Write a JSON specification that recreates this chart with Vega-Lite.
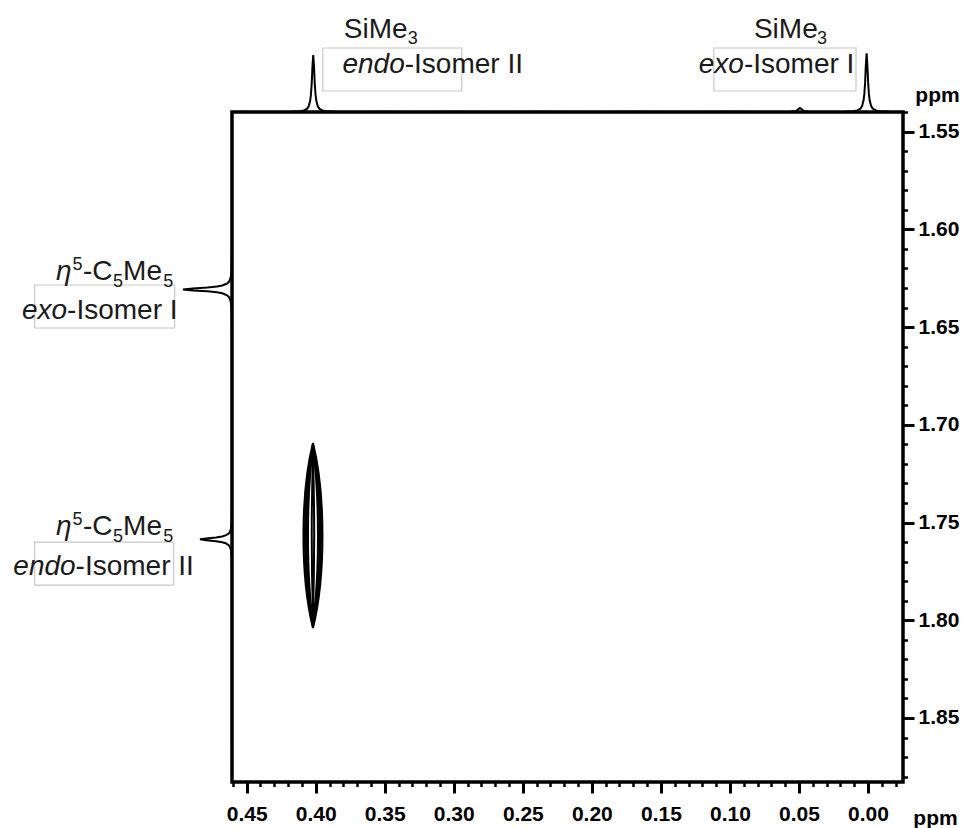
{
  "$schema": "https://vega.github.io/schema/vega-lite/v6.json",
  "width": 671,
  "height": 670,
  "autosize": "none",
  "padding": {"left": 232, "top": 112, "right": 64, "bottom": 46},
  "background": "white",
  "config": {
    "view": {"stroke": "#000000", "strokeWidth": 3.5},
    "font": "Liberation Sans"
  },
  "datasets": {
    "boxes": [
      {"x": 0.3949, "x2": 0.2942, "y": 1.50717, "y2": 1.52917},
      {"x": 0.1116, "x2": 0.0087, "y": 1.50717, "y2": 1.52917},
      {"x": 0.6036, "x2": 0.5022, "y": 1.62845, "y2": 1.65046},
      {"x": 0.6036, "x2": 0.5029, "y": 1.75998, "y2": 1.78199}
    ],
    "contours": [
      {"x": 0.402, "y": 1.7566, "level": 1},
      {"x": 0.402, "y": 1.7566, "level": 2},
      {"x": 0.402, "y": 1.7566, "level": 3},
      {"x": 0.402, "y": 1.7566, "level": 4},
      {"x": 0.402, "y": 1.7566, "level": 5}
    ],
    "italicText": [
      {"x": 0.33551, "y": 1.52011, "t": "endo"},
      {"x": 0.08986, "y": 1.52011, "t": "exo"},
      {"x": 0.57681, "y": 1.6259, "t": "η"},
      {"x": 0.58007, "y": 1.64585, "t": "exo"},
      {"x": 0.57681, "y": 1.7564, "t": "η"},
      {"x": 0.57391, "y": 1.77687, "t": "endo"}
    ],
    "normalText": [
      {"x": 0.37971, "y": 1.5023, "t": "SiMe"},
      {"x": 0.33551, "y": 1.52011, "t": "-Isomer II"},
      {"x": 0.08261, "y": 1.5023, "t": "SiMe"},
      {"x": 0.08986, "y": 1.52011, "t": "-Isomer I"},
      {"x": 0.5686, "y": 1.6259, "t": "-C"},
      {"x": 0.5395, "y": 1.6259, "t": "Me"},
      {"x": 0.58007, "y": 1.64585, "t": "-Isomer I"},
      {"x": 0.5686, "y": 1.7564, "t": "-C"},
      {"x": 0.5395, "y": 1.7564, "t": "Me"},
      {"x": 0.57391, "y": 1.77687, "t": "-Isomer II"}
    ],
    "smallText": [
      {"x": 0.33333, "y": 1.50537, "t": "3"},
      {"x": 0.03696, "y": 1.50537, "t": "3"},
      {"x": 0.57609, "y": 1.62052, "t": "5"},
      {"x": 0.5469, "y": 1.62932, "t": "5"},
      {"x": 0.5105, "y": 1.62932, "t": "5"},
      {"x": 0.57609, "y": 1.75128, "t": "5"},
      {"x": 0.5469, "y": 1.75983, "t": "5"},
      {"x": 0.5105, "y": 1.75983, "t": "5"}
    ],
    "topSpec": [
      {"x": 0.4606, "i": 0}, {"x": 0.452, "i": 0.003}, {"x": 0.445, "i": 0.001},
      {"x": 0.4348, "i": 0.0011}, {"x": 0.4183, "i": 0.0044}, {"x": 0.4117, "i": 0.012},
      {"x": 0.4084, "i": 0.027}, {"x": 0.4062, "i": 0.0588}, {"x": 0.4051, "i": 0.1},
      {"x": 0.404, "i": 0.2}, {"x": 0.40345, "i": 0.308}, {"x": 0.4029, "i": 0.5},
      {"x": 0.40235, "i": 0.8}, {"x": 0.4018, "i": 1}, {"x": 0.40125, "i": 0.8},
      {"x": 0.4007, "i": 0.5}, {"x": 0.40015, "i": 0.308}, {"x": 0.3996, "i": 0.2},
      {"x": 0.3985, "i": 0.1}, {"x": 0.3974, "i": 0.0588}, {"x": 0.3952, "i": 0.027},
      {"x": 0.3919, "i": 0.012}, {"x": 0.3853, "i": 0.0044}, {"x": 0.3688, "i": 0.0011},
      {"x": 0.35, "i": 0.003}, {"x": 0.33, "i": 0.001}, {"x": 0.3, "i": 0.004},
      {"x": 0.27, "i": 0.001}, {"x": 0.24, "i": 0.003}, {"x": 0.2, "i": 0.001},
      {"x": 0.17, "i": 0.004}, {"x": 0.13, "i": 0.001}, {"x": 0.1, "i": 0.003},
      {"x": 0.07, "i": 0.001}, {"x": 0.056, "i": 0.003}, {"x": 0.052, "i": 0.02},
      {"x": 0.0493, "i": 0.07}, {"x": 0.0465, "i": 0.02}, {"x": 0.043, "i": 0.003},
      {"x": 0.034, "i": 0.0011}, {"x": 0.0175, "i": 0.0045}, {"x": 0.0109, "i": 0.0124},
      {"x": 0.0076, "i": 0.028}, {"x": 0.0054, "i": 0.0606}, {"x": 0.0043, "i": 0.103},
      {"x": 0.0032, "i": 0.206}, {"x": 0.00265, "i": 0.317}, {"x": 0.0021, "i": 0.515},
      {"x": 0.00155, "i": 0.824}, {"x": 0.001, "i": 1.03}, {"x": 0.00045, "i": 0.824},
      {"x": -0.0001, "i": 0.515}, {"x": -0.00065, "i": 0.317}, {"x": -0.0012, "i": 0.206},
      {"x": -0.0023, "i": 0.103}, {"x": -0.0034, "i": 0.0606}, {"x": -0.0056, "i": 0.028},
      {"x": -0.0089, "i": 0.0124}, {"x": -0.0155, "i": 0.0045}, {"x": -0.0253, "i": 0.002}
    ],
    "leftSpec": [
      {"y": 1.54, "i": 0}, {"y": 1.56, "i": 0.002}, {"y": 1.58, "i": 0.001},
      {"y": 1.6007, "i": 0.0011}, {"y": 1.6157, "i": 0.0044}, {"y": 1.6217, "i": 0.012},
      {"y": 1.6247, "i": 0.027}, {"y": 1.6267, "i": 0.0588}, {"y": 1.6277, "i": 0.1},
      {"y": 1.6287, "i": 0.2}, {"y": 1.6292, "i": 0.308}, {"y": 1.6297, "i": 0.5},
      {"y": 1.6302, "i": 0.8}, {"y": 1.6307, "i": 1}, {"y": 1.6312, "i": 0.8},
      {"y": 1.6317, "i": 0.5}, {"y": 1.6322, "i": 0.308}, {"y": 1.6327, "i": 0.2},
      {"y": 1.6337, "i": 0.1}, {"y": 1.6347, "i": 0.0588}, {"y": 1.6367, "i": 0.027},
      {"y": 1.6397, "i": 0.012}, {"y": 1.6457, "i": 0.0044}, {"y": 1.6607, "i": 0.0011},
      {"y": 1.69, "i": 0.002}, {"y": 1.71, "i": 0.001},
      {"y": 1.7286, "i": 0.0007}, {"y": 1.7436, "i": 0.0029}, {"y": 1.7496, "i": 0.0078},
      {"y": 1.7526, "i": 0.0176}, {"y": 1.7546, "i": 0.0384}, {"y": 1.7556, "i": 0.0653},
      {"y": 1.7566, "i": 0.1306}, {"y": 1.7571, "i": 0.2011}, {"y": 1.7576, "i": 0.3265},
      {"y": 1.7581, "i": 0.5224}, {"y": 1.7586, "i": 0.653}, {"y": 1.7591, "i": 0.5224},
      {"y": 1.7596, "i": 0.3265}, {"y": 1.7601, "i": 0.2011}, {"y": 1.7606, "i": 0.1306},
      {"y": 1.7616, "i": 0.0653}, {"y": 1.7626, "i": 0.0384}, {"y": 1.7646, "i": 0.0176},
      {"y": 1.7676, "i": 0.0078}, {"y": 1.7736, "i": 0.0029}, {"y": 1.7886, "i": 0.0007},
      {"y": 1.82, "i": 0.002}, {"y": 1.85, "i": 0.001}, {"y": 1.8827, "i": 0}
    ]
  },
  "layer": [
    {
      "encoding": {
        "x": {
          "field": "x", "type": "quantitative",
          "scale": {"domain": [-0.02535, 0.46064], "reverse": true, "nice": false, "zero": false},
          "axis": {
            "orient": "bottom",
            "values": [0.46,0.45,0.44,0.43,0.42,0.41,0.4,0.39,0.38,0.37,0.36,0.35,0.34,0.33,0.32,0.31,0.3,0.29,0.28,0.27,0.26,0.25,0.24,0.23,0.22,0.21,0.2,0.19,0.18,0.17,0.16,0.15,0.14,0.13,0.12,0.11,0.1,0.09,0.08,0.07,0.06,0.05,0.04,0.03,0.02,0.01,0,-0.01,-0.02],
            "domain": false, "grid": false,
            "tickColor": "#000000",
            "tickWidth": {"condition": {"test": "abs(round(datum.value*100)) % 5 === 0", "value": 3}, "value": 2.5},
            "tickSize": {"condition": {"test": "abs(round(datum.value*100)) % 5 === 0", "value": 11}, "value": 4.5},
            "labelExpr": "abs(round(datum.value*100)) % 5 === 0 ? format(datum.value, '.2f') : ''",
            "labelFont": "Liberation Sans", "labelFontSize": 21, "labelFontWeight": "bold", "labelColor": "#000000",
            "labelPadding": 10, "labelFlush": false, "labelOverlap": false,
            "title": "ppm", "titleFont": "Liberation Sans", "titleFontSize": 21, "titleFontWeight": "bold", "titleColor": "#000000",
            "titleX": 703, "titleY": 42, "titleBaseline": "alphabetic", "titleAlign": "center"
          }
        },
        "y": {
          "field": "y", "type": "quantitative",
          "scale": {"domain": [1.53992, 1.88276], "reverse": true, "nice": false, "zero": false},
          "axis": {
            "orient": "right",
            "values": [1.54,1.55,1.56,1.57,1.58,1.59,1.6,1.61,1.62,1.63,1.64,1.65,1.66,1.67,1.68,1.69,1.7,1.71,1.72,1.73,1.74,1.75,1.76,1.77,1.78,1.79,1.8,1.81,1.82,1.83,1.84,1.85,1.86,1.87,1.88],
            "domain": false, "grid": false,
            "tickColor": "#000000",
            "tickWidth": {"condition": {"test": "abs(round(datum.value*100)) % 5 === 0", "value": 3}, "value": 2.5},
            "tickSize": {"condition": {"test": "abs(round(datum.value*100)) % 5 === 0", "value": 11}, "value": 4.5},
            "labelExpr": "abs(round(datum.value*100)) % 5 === 0 ? format(datum.value, '.2f') : ''",
            "labelFont": "Liberation Sans", "labelFontSize": 21, "labelFontWeight": "bold", "labelColor": "#000000",
            "labelPadding": 4, "labelFlush": false, "labelOverlap": false,
            "title": "ppm", "titleFont": "Liberation Sans", "titleFontSize": 21, "titleFontWeight": "bold", "titleColor": "#000000",
            "titleAngle": 0, "titleX": 34, "titleY": -11, "titleBaseline": "alphabetic", "titleAlign": "center"
          }
        }
      },
      "layer": [
        {
          "data": {"name": "boxes"},
          "mark": {"type": "rect", "filled": false, "stroke": "#c8c8c8", "strokeWidth": 1.2},
          "encoding": {"x2": {"field": "x2"}, "y2": {"field": "y2"}}
        },
        {
          "data": {"name": "contours"},
          "mark": {"type": "point", "filled": false, "stroke": "#000000", "strokeWidth": 2, "size": 34225, "opacity": 1},
          "encoding": {
            "shape": {
              "field": "level", "type": "ordinal", "legend": null,
              "scale": {
                "domain": [1, 2, 3, 4, 5],
                "range": [
                  "M0,-1C0.1369,-0.45 0.1369,0.45 0,1C-0.1369,0.45 -0.1369,-0.45 0,-1Z",
                  "M0,-0.985C0.1153,-0.443 0.1153,0.443 0,0.985C-0.1153,0.443 -0.1153,-0.443 0,-0.985Z",
                  "M0,-0.965C0.0937,-0.434 0.0937,0.434 0,0.965C-0.0937,0.434 -0.0937,-0.434 0,-0.965Z",
                  "M0,-0.94C0.0721,-0.423 0.0721,0.423 0,0.94C-0.0721,0.423 -0.0721,-0.423 0,-0.94Z",
                  "M0,-0.85C0.0144,-0.383 0.0144,0.383 0,0.85C-0.0144,0.383 -0.0144,-0.383 0,-0.85Z"
                ]
              }
            }
          }
        },
        {
          "data": {"name": "italicText"},
          "mark": {"type": "text", "align": "right", "baseline": "alphabetic", "font": "Liberation Sans", "fontSize": 28, "fontStyle": "italic", "fill": "#1a1a1a"},
          "encoding": {"text": {"field": "t"}}
        },
        {
          "data": {"name": "normalText"},
          "mark": {"type": "text", "align": "left", "baseline": "alphabetic", "font": "Liberation Sans", "fontSize": 28, "fill": "#1a1a1a"},
          "encoding": {"text": {"field": "t"}}
        },
        {
          "data": {"name": "smallText"},
          "mark": {"type": "text", "align": "left", "baseline": "alphabetic", "font": "Liberation Sans", "fontSize": 18, "fill": "#1a1a1a"},
          "encoding": {"text": {"field": "t"}}
        }
      ]
    },
    {
      "data": {"name": "topSpec"},
      "mark": {"type": "line", "stroke": "#000000", "strokeWidth": 2, "interpolate": "linear"},
      "encoding": {
        "x": {"field": "x", "type": "quantitative", "scale": {"domain": [-0.02535, 0.46064], "reverse": true, "nice": false, "zero": false}, "axis": null},
        "y": {"field": "i", "type": "quantitative", "scale": {"domain": [-11.754, 0], "nice": false, "zero": false}, "axis": null},
        "order": {"field": "x", "type": "quantitative"}
      }
    },
    {
      "data": {"name": "leftSpec"},
      "mark": {"type": "line", "stroke": "#000000", "strokeWidth": 2, "interpolate": "linear"},
      "encoding": {
        "x": {"field": "i", "type": "quantitative", "scale": {"domain": [-13.694, 0], "reverse": true, "nice": false, "zero": false}, "axis": null},
        "y": {"field": "y", "type": "quantitative", "scale": {"domain": [1.53992, 1.88276], "reverse": true, "nice": false, "zero": false}, "axis": null},
        "order": {"field": "y", "type": "quantitative"}
      }
    }
  ],
  "resolve": {"scale": {"x": "independent", "y": "independent"}}
}
